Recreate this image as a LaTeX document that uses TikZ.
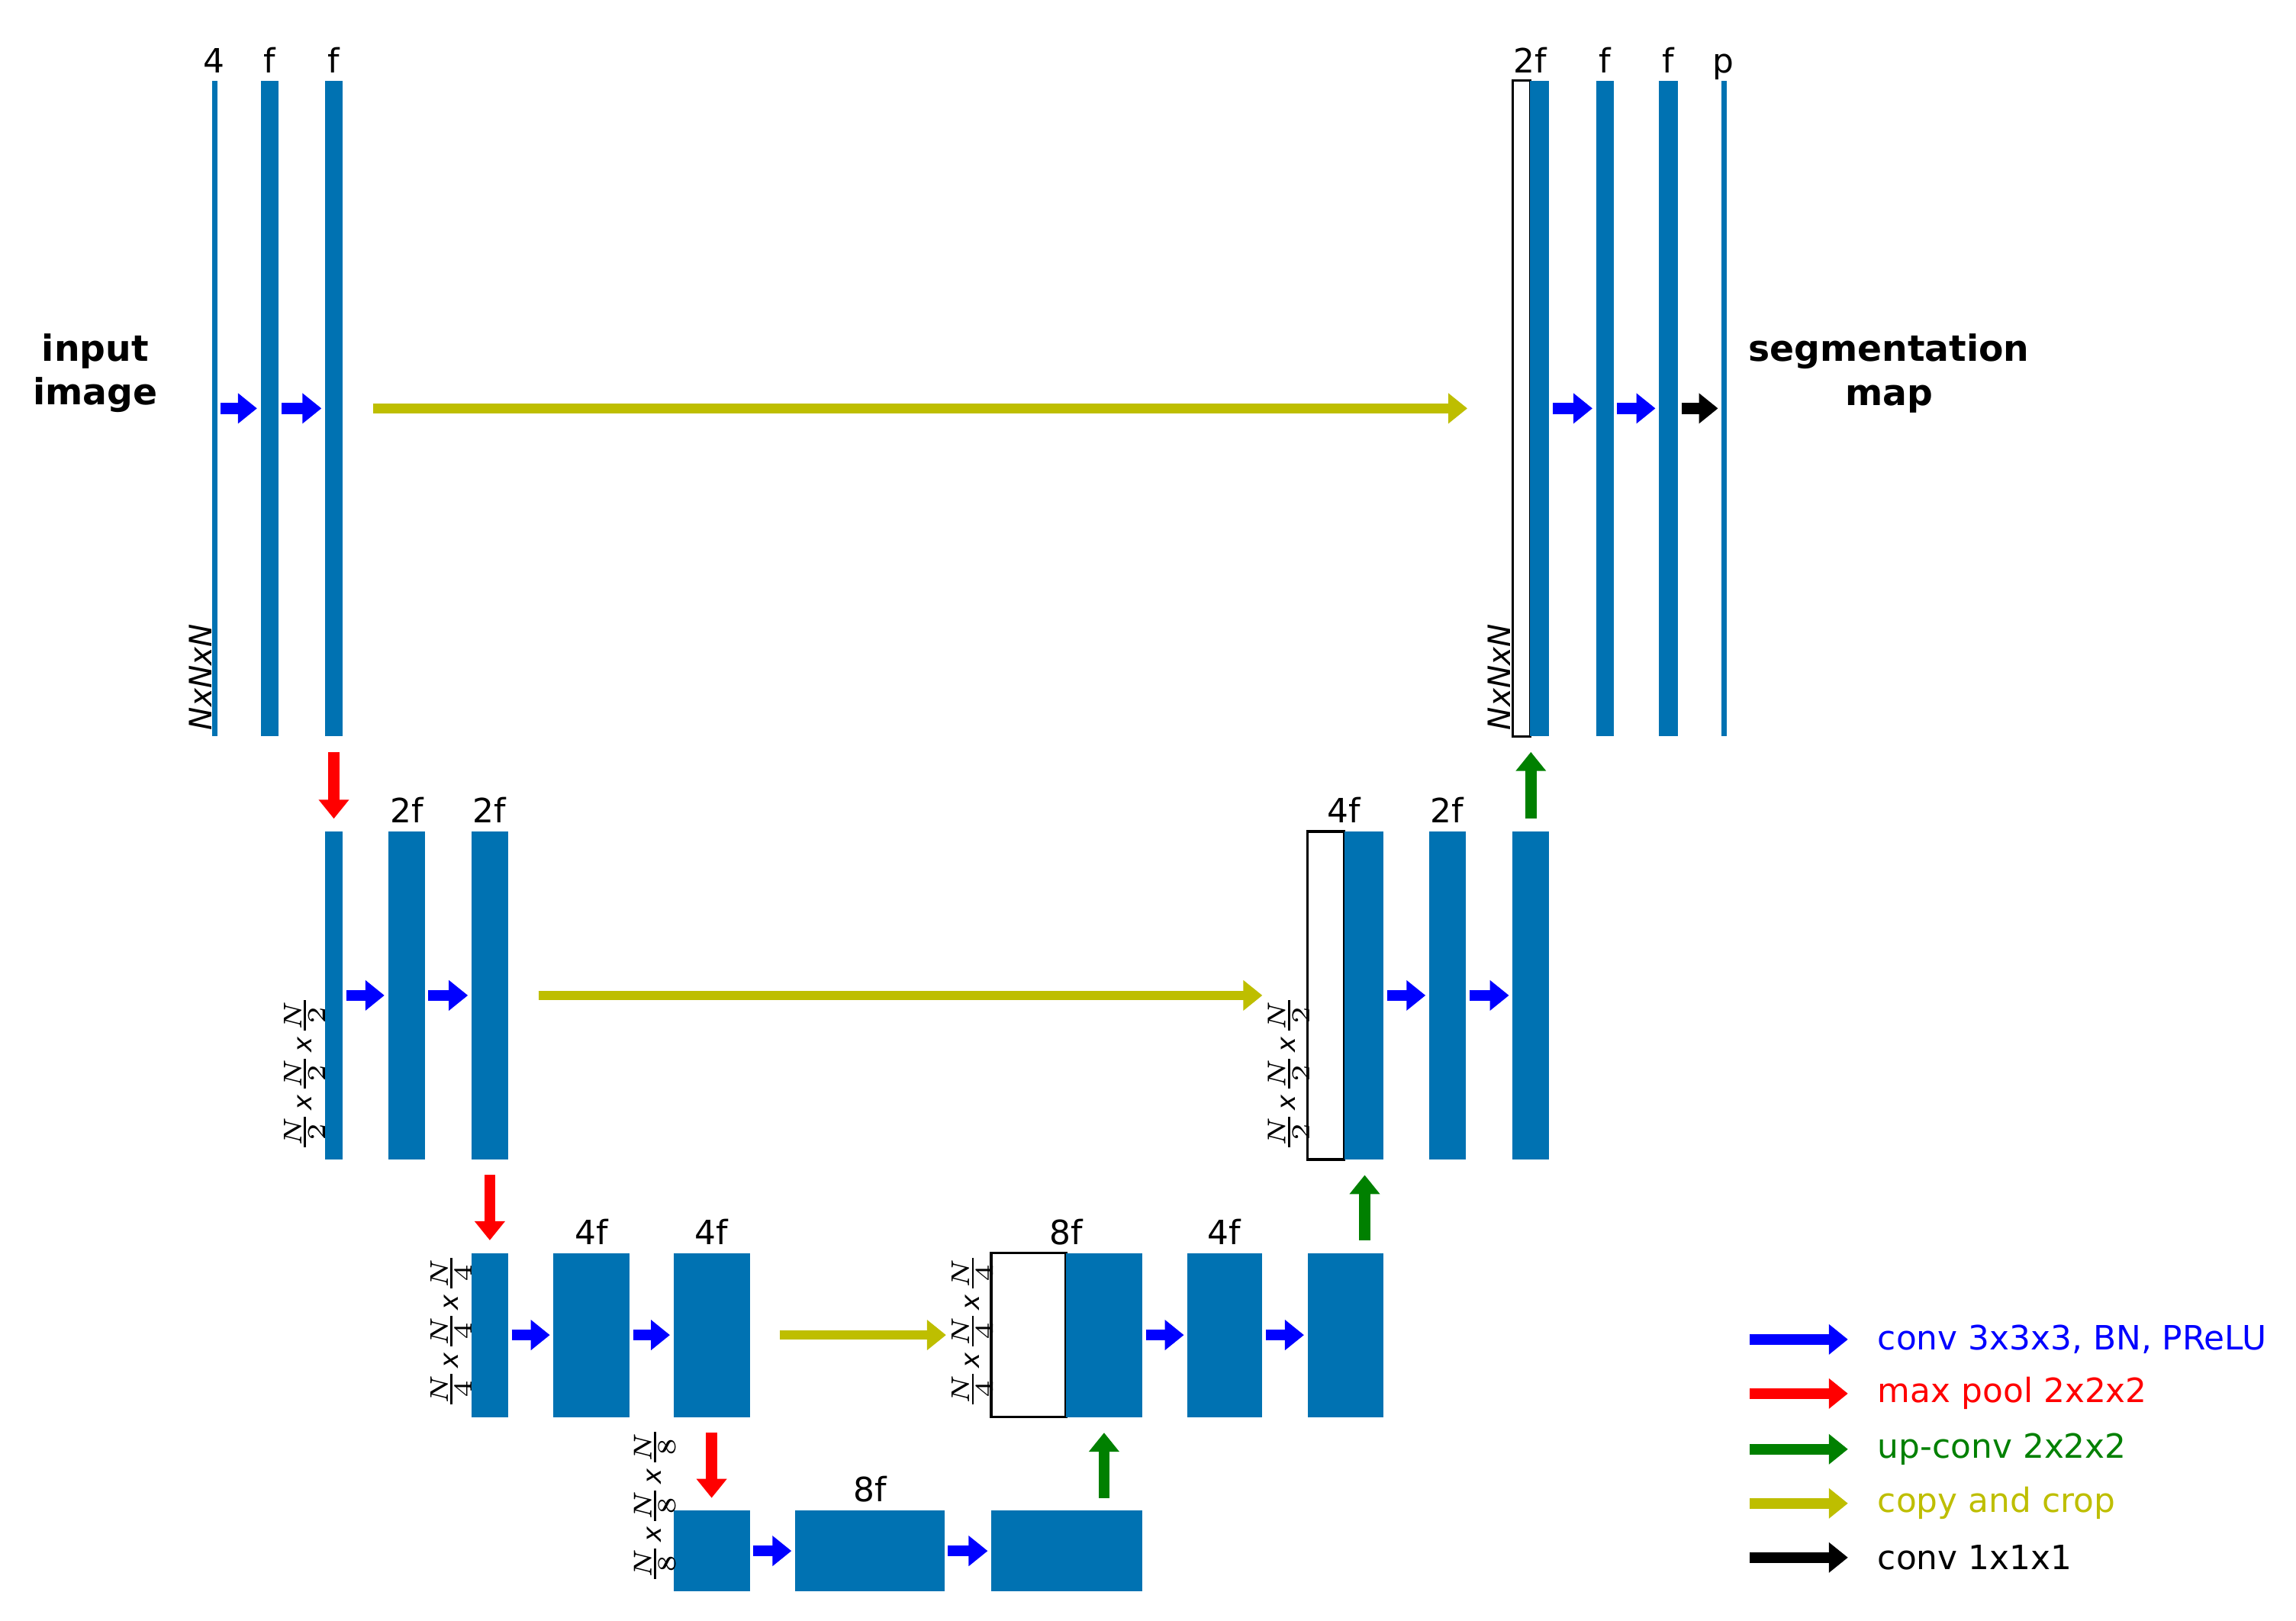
\documentclass[tikz,border=0pt]{standalone}
\usepackage{fontspec}
\setmainfont{DejaVu Sans}
\usetikzlibrary{fit,arrows.meta,calc}
\definecolor{barblue}{RGB}{0,114,178}
\definecolor{olive}{RGB}{190,190,0}
\definecolor{dgreen}{RGB}{0,128,0}
\begin{document}
\begin{tikzpicture}[x=0.01cm,y=-0.01cm,
  blk/.style={fill=barblue,draw=none,inner sep=0pt},
  wht/.style={fill=white,draw=black,line width=0.5pt,inner sep=0pt},
  arr/.style={line width=0.075cm,-{Triangle[length=0.13cm,width=0.2cm]}},
  conv/.style={arr,blue,shorten <=0.5pt,shorten >=0.5pt},
  pool/.style={arr,red,shorten <=0.1cm,shorten >=0.08cm},
  up/.style={arr,dgreen,shorten <=0.08cm,shorten >=0.1cm},
  copy/.style={arr,olive,line width=0.065cm,shorten <=0.2cm,shorten >=0.3cm},
  one/.style={arr,black,shorten <=0.5pt,shorten >=0.5pt},
  lab/.style={font=\fontsize{6.5}{7}\selectfont,anchor=base},
  dim/.style={font=\fontsize{6}{7}\selectfont\itshape,rotate=90,anchor=west,inner sep=1pt},
  frc/.style={font=\fontsize{5}{6}\selectfont,rotate=90,anchor=west,inner sep=1pt},
  big/.style={font=\fontsize{7}{8.5}\selectfont\bfseries,align=center},
  leg/.style={font=\fontsize{6.5}{8}\selectfont,anchor=west}]
\useasboundingbox (0,0) rectangle (1568,1107);
\newcommand\blkn[6][blk]{\node[#1,fit={(#3,#5)(#4,#6)}] (#2) {};}
\newcommand\frq[1]{$\frac{N}{#1}\mathit{x}\frac{N}{#1}\mathit{x}\frac{N}{#1}$}
% level 1
\blkn{a0}{145}{148}{55}{503}
\blkn{a1}{178}{190}{55}{503}
\blkn{a2}{222}{234}{55}{503}
\blkn[wht]{aw}{1033}{1045}{55}{503}
\blkn{a3}{1045}{1058}{55}{503}
\blkn{a4}{1090}{1102}{55}{503}
\blkn{a5}{1133}{1146}{55}{503}
\blkn{a6}{1176}{1179}{55}{503}
\node[lab] at (146,50) {4};
\node[lab] at (184,50) {f};
\node[lab] at (228,50) {f};
\node[lab] at (1045,50) {2f};
\node[lab] at (1096,50) {f};
\node[lab] at (1139,50) {f};
\node[lab] at (1177,50) {p};
\node[dim] at (137,503) {NxNxN};
\node[dim] at (1024,503) {NxNxN};
\node[big] at (65,255) {input\\image};
\node[big] at (1290,255) {segmentation\\map};
\draw[conv] (a0.east) -- (a1.west);
\draw[conv] (a1.east) -- (a2.west);
\draw[copy] (a2.east) -- (aw.west);
\draw[conv] (a3.east) -- (a4.west);
\draw[conv] (a4.east) -- (a5.west);
\draw[one] (a5.east) -- (a6.west);
% level 2
\blkn{b1}{222}{234}{568}{792}
\blkn{b2}{265}{290}{568}{792}
\blkn{b3}{322}{347}{568}{792}
\blkn[wht]{bw}{893}{918}{568}{792}
\blkn{b4}{918}{945}{568}{792}
\blkn{b5}{976}{1001}{568}{792}
\blkn{b6}{1033}{1058}{568}{792}
\node[lab] at (278,562) {2f};
\node[lab] at (334,562) {2f};
\node[lab] at (918,562) {4f};
\node[lab] at (988,562) {2f};
\node[frc] at (208,792) {\frq{2}};
\node[frc] at (880,792) {\frq{2}};
\draw[pool] (a2.south) -- (b1.north);
\draw[up] (b6.north) -- (a3.south-|b6.north);
\draw[conv] (b1.east) -- (b2.west);
\draw[conv] (b2.east) -- (b3.west);
\draw[copy] (b3.east) -- (bw.west);
\draw[conv] (b4.east) -- (b5.west);
\draw[conv] (b5.east) -- (b6.west);
% level 3
\blkn{c1}{322}{347}{856}{968}
\blkn{c2}{378}{430}{856}{968}
\blkn{c3}{460}{512}{856}{968}
\blkn[wht]{cw}{677}{728}{856}{968}
\blkn{c4}{728}{780}{856}{968}
\blkn{c5}{811}{862}{856}{968}
\blkn{c6}{893}{945}{856}{968}
\node[lab] at (404,850) {4f};
\node[lab] at (486,850) {4f};
\node[lab] at (728,850) {8f};
\node[lab] at (836,850) {4f};
\node[frc] at (308,968) {\frq{4}};
\node[frc] at (664,968) {\frq{4}};
\draw[pool] (b3.south) -- (c1.north);
\draw[up] (c6.north-|932,0) -- (b4.south-|932,0);
\draw[conv] (c1.east) -- (c2.west);
\draw[conv] (c2.east) -- (c3.west);
\draw[copy] (c3.east) -- (cw.west);
\draw[conv] (c4.east) -- (c5.west);
\draw[conv] (c5.east) -- (c6.west);
% level 4
\blkn{d1}{460}{512}{1032}{1087}
\blkn{d2}{543}{645}{1032}{1087}
\blkn{d3}{677}{780}{1032}{1087}
\node[lab] at (594,1026) {8f};
\node[frc] at (447,1087) {\frq{8}};
\draw[pool] (c3.south-|486,0) -- (d1.north-|486,0);
\draw[up] (d3.north-|754,0) -- (c4.south-|754,0);
\draw[conv] (d1.east) -- (d2.west);
\draw[conv] (d2.east) -- (d3.west);
% legend
\foreach \y/\c/\t in {915/blue/{conv 3x3x3, BN, PReLU},952/red/{max pool 2x2x2},990/dgreen/{up-conv 2x2x2},1027/olive/{copy and crop},1064/black/{conv 1x1x1}}{
  \coordinate (l\y a) at (1195,\y); \coordinate (l\y b) at (1262,\y);
  \draw[arr,\c] (l\y a) -- (l\y b);
  \node[leg,text=\c] at (1270,\y) {\t};
}
\end{tikzpicture}
\end{document}
